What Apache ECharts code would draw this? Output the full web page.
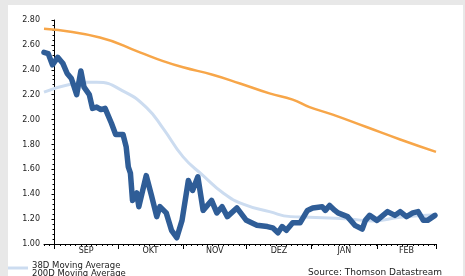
<!DOCTYPE html>
<html>
<head>
<meta charset="utf-8">
<script src="https://cdn.jsdelivr.net/npm/echarts@6/dist/echarts.min.js"></script>
<style>
  html, body { margin: 0; padding: 0; background: #e8e8e8; }
  #chart { width: 465px; height: 276px; }
</style>
</head>
<body>
<div id="chart"></div>
<script>
// x values are days counted from 1 Sep
const monthNames = ["SEP", "OKT", "NOV", "DEZ", "JAN", "FEB"];
const monthStarts = [0, 30, 61, 91, 122, 153, 181];

const priceDays = [-5, -3, -1, 1.5, 4, 6, 8, 10.5, 12.5, 14, 16.5, 18, 20, 22, 24, 27, 29, 32.5, 34, 35, 36, 37, 39, 40,
  43.5, 46, 48.5, 50, 53, 55.5, 58, 60.5, 63.5, 65.5, 68, 70.5, 74.5, 77, 79.5, 82, 86.5, 91, 96, 101, 103.5, 106,
  108, 110, 113, 116.5, 120, 122.5, 127, 128.5, 130.5, 133, 134.5, 139, 142.5, 146, 147.5, 149.5, 153, 158, 161.5,
  164, 167, 170, 172.5, 175, 177, 180.5];
const priceValues = [2.54, 2.53, 2.44, 2.50, 2.45, 2.37, 2.33, 2.20, 2.39, 2.26, 2.20, 2.09, 2.10, 2.08, 2.09, 1.97, 1.88, 1.88, 1.78, 1.62, 1.57, 1.35, 1.41, 1.30,
  1.55, 1.39, 1.22, 1.30, 1.25, 1.11, 1.05, 1.19, 1.51, 1.43, 1.54, 1.27, 1.35, 1.25, 1.30, 1.22, 1.29, 1.19, 1.15, 1.14, 1.13, 1.09,
  1.14, 1.11, 1.17, 1.17, 1.27, 1.29, 1.30, 1.27, 1.31, 1.27, 1.25, 1.22, 1.15, 1.12, 1.19, 1.23, 1.19, 1.26, 1.23,
  1.26, 1.22, 1.25, 1.26, 1.19, 1.19, 1.23];

const ma38Days = [-5, 9, 15, 20, 33.5, 44, 51.5, 61, 70.5, 80, 89.5, 102, 112, 121, 140, 151, 164, 181];
const ma38Values = [2.22, 2.29, 2.30, 2.30, 2.22, 2.09, 1.93, 1.70, 1.55, 1.41, 1.32, 1.26, 1.22, 1.215, 1.20, 1.185, 1.215, 1.235];

const ma200Days = [-5, 21.5, 40.5, 51.5, 61, 75, 88, 102, 113, 121, 132, 148, 164, 181];
const ma200Values = [2.73, 2.66, 2.54, 2.47, 2.42, 2.36, 2.29, 2.21, 2.16, 2.10, 2.04, 1.94, 1.84, 1.74];

function zip(xs, ys) {
  return xs.map((x, i) => [x, ys[i]]);
}

const monthMids = monthNames.map((m, i) => (monthStarts[i] + monthStarts[i + 1]) / 2);

let myChart = echarts.init(document.getElementById("chart"));
const font = "DejaVu Sans";

let option = {
  backgroundColor: "#e8e8e8",
  animation: false,
  grid: { left: 44, right: 29, top: 20, bottom: 32 },
  graphic: [
    { type: "rect", z: -10, shape: { x: 8, y: 5, width: 455, height: 280 }, style: { fill: "#ffffff" } },
    { type: "line", shape: { x1: 8, y1: 268, x2: 28, y2: 268 }, style: { stroke: "#ccdcf0", lineWidth: 3 } },
    { type: "text", left: 32, top: 261, style: { text: "38D Moving Average", font: "8.5px DejaVu Sans", fill: "#222" } },
    { type: "text", left: 32, top: 269, style: { text: "200D Moving Average", font: "8.5px DejaVu Sans", fill: "#222" } },
    { type: "text", left: 308, top: 268, style: { text: "Source: Thomson Datastream", font: "9px DejaVu Sans", fill: "#222" } },
  ],
  xAxis: [
    {
      type: "value",
      min: -5,
      max: 181,
      axisLine: { lineStyle: { color: "#000", width: 1 } },
      axisTick: { show: true, length: 5, customValues: monthStarts, lineStyle: { color: "#000" } },
      axisLabel: {
        customValues: monthMids,
        margin: 3,
        fontSize: 8,
        fontFamily: font,
        color: "#222",
        formatter: (v) => monthNames[monthMids.indexOf(v)] || "",
      },
      splitLine: { show: false },
    },
    {
      type: "value",
      min: -5,
      max: 181,
      interval: 2.5,
      position: "bottom",
      axisLine: { show: false },
      axisTick: { show: true, length: 2, lineStyle: { color: "#000" } },
      axisLabel: { show: false },
      splitLine: { show: false },
    },
  ],
  yAxis: {
    type: "value",
    min: 1,
    max: 2.8,
    interval: 0.2,
    axisLine: { show: true, lineStyle: { color: "#000" } },
    axisTick: { show: true, length: 3, lineStyle: { color: "#000" } },
    minorTick: { show: true, splitNumber: 5, length: 2, lineStyle: { color: "#000" } },
    axisLabel: { fontSize: 8, fontFamily: font, color: "#222", margin: 4, formatter: (v) => v.toFixed(2) },
    splitLine: { show: false },
  },
  series: [
    {
      name: "200D Moving Average",
      type: "line",
      smooth: true,
      symbol: "none",
      data: zip(ma200Days, ma200Values),
      lineStyle: { color: "#f7a649", width: 2.5 },
    },
    {
      name: "38D Moving Average",
      type: "line",
      smooth: true,
      symbol: "none",
      data: zip(ma38Days, ma38Values),
      lineStyle: { color: "#ccdcf0", width: 3 },
    },
    {
      name: "Price",
      type: "line",
      symbol: "none",
      data: zip(priceDays, priceValues),
      lineStyle: { color: "#2f5d97", width: 5.5, join: "round", cap: "round" },
    },
  ],
};

option && myChart.setOption(option);
</script>
</body>
</html>
